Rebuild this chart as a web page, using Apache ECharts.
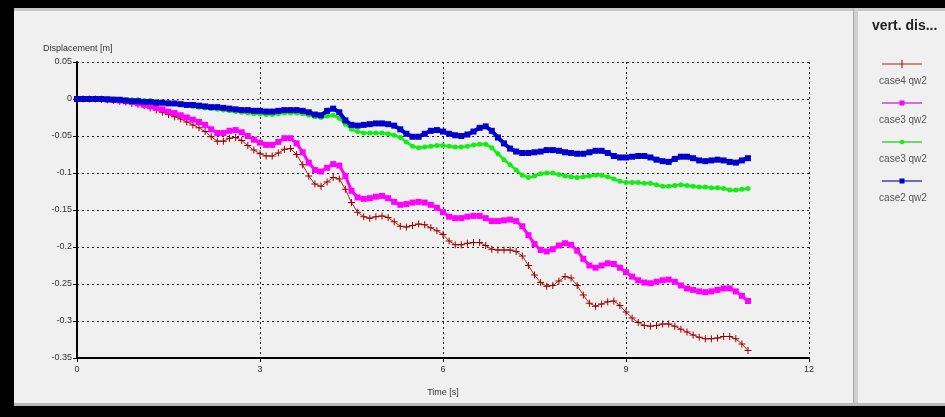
<!DOCTYPE html>
<html>
<head>
<meta charset="utf-8">
<script src="https://cdn.jsdelivr.net/npm/echarts@6/dist/echarts.min.js"></script>
<style>
  html, body { margin:0; padding:0; background:#000; }
  #wrap { position:relative; width:945px; height:417px; background:#000; overflow:hidden; }
  .panel { position:absolute; background:#f0f0f0; }
  #chart { position:absolute; left:0; top:0; width:945px; height:417px; }
</style>
</head>
<body>
<div id="wrap">
  <div class="panel" style="left:14px;top:8px;width:839px;height:395px;border-top:3px solid #c8c8c8;box-sizing:border-box;"></div>
  <div style="position:absolute;left:853px;top:8px;width:5px;height:398px;background:#d0d0d0;border-left:1px solid #a8a8a8;box-sizing:border-box;"></div>
  <div class="panel" style="left:858px;top:8px;width:87px;height:395px;border-top:3px solid #c8c8c8;box-sizing:border-box;"></div>
  <div style="position:absolute;left:14px;top:403px;width:931px;height:3px;background:#b8b8b8;"></div>
  <div id="chart"></div>
</div>
<script>
const seriesNames = ['case4 qw2', 'case3 qw2', 'case3 qw2', 'case2 qw2'];
const xTicks = [0, 3, 6, 9, 12];
const yTicks = [0.05, 0, -0.05, -0.1, -0.15, -0.2, -0.25, -0.3, -0.35];

const times = [0,0.1,0.2,0.3,0.4,0.5,0.6,0.7,0.8,0.9,1,1.1,1.2,1.3,1.4,1.5,1.6,1.7,1.8,1.9,2,2.1,2.2,2.3,2.4,2.5,2.6,2.7,2.8,2.9,3,3.1,3.2,3.3,3.4,3.5,3.6,3.7,3.8,3.9,4,4.1,4.2,4.3,4.4,4.5,4.6,4.7,4.8,4.9,5,5.1,5.2,5.3,5.4,5.5,5.6,5.7,5.8,5.9,6,6.1,6.2,6.3,6.4,6.5,6.6,6.7,6.8,6.9,7,7.1,7.2,7.3,7.4,7.5,7.6,7.7,7.8,7.9,8,8.1,8.2,8.3,8.4,8.5,8.6,8.7,8.8,8.9,9,9.1,9.2,9.3,9.4,9.5,9.6,9.7,9.8,9.9,10,10.1,10.2,10.3,10.4,10.5,10.6,10.7,10.8,10.9,11];

const case4 = [0,0,0,0,-0.0005,-0.001,-0.002,-0.003,-0.004,-0.006,
  -0.007,-0.009,-0.012,-0.015,-0.018,-0.021,-0.024,-0.027,-0.031,-0.035,
  -0.039,-0.044,-0.051,-0.057,-0.057,-0.053,-0.052,-0.056,-0.063,-0.069,
  -0.074,-0.077,-0.077,-0.073,-0.068,-0.067,-0.075,-0.089,-0.104,-0.115,
  -0.118,-0.112,-0.106,-0.108,-0.122,-0.140,-0.153,-0.159,-0.161,-0.159,
  -0.158,-0.160,-0.166,-0.172,-0.173,-0.171,-0.169,-0.170,-0.174,-0.178,
  -0.183,-0.192,-0.197,-0.197,-0.195,-0.194,-0.194,-0.198,-0.203,-0.204,
  -0.204,-0.204,-0.206,-0.212,-0.225,-0.238,-0.248,-0.253,-0.252,-0.246,
  -0.240,-0.242,-0.252,-0.265,-0.276,-0.280,-0.277,-0.274,-0.273,-0.279,
  -0.288,-0.296,-0.302,-0.306,-0.307,-0.306,-0.304,-0.304,-0.307,-0.311,
  -0.315,-0.319,-0.322,-0.324,-0.324,-0.323,-0.321,-0.321,-0.324,-0.331,-0.340];

const case3a = [0,0,0,0,0,-0.0005,-0.001,-0.002,-0.003,-0.004,
  -0.006,-0.008,-0.010,-0.012,-0.014,-0.017,-0.019,-0.022,-0.025,-0.028,
  -0.031,-0.035,-0.041,-0.046,-0.046,-0.043,-0.042,-0.045,-0.050,-0.055,
  -0.059,-0.062,-0.062,-0.058,-0.053,-0.053,-0.060,-0.072,-0.086,-0.096,
  -0.098,-0.093,-0.088,-0.090,-0.104,-0.124,-0.133,-0.135,-0.134,-0.132,
  -0.131,-0.134,-0.139,-0.143,-0.142,-0.140,-0.139,-0.140,-0.143,-0.147,
  -0.153,-0.159,-0.161,-0.161,-0.159,-0.158,-0.158,-0.161,-0.165,-0.165,
  -0.164,-0.163,-0.165,-0.172,-0.184,-0.196,-0.204,-0.206,-0.203,-0.198,
  -0.195,-0.197,-0.205,-0.216,-0.225,-0.228,-0.225,-0.222,-0.223,-0.228,
  -0.234,-0.240,-0.245,-0.248,-0.249,-0.247,-0.245,-0.244,-0.247,-0.252,
  -0.256,-0.258,-0.260,-0.261,-0.260,-0.258,-0.256,-0.256,-0.260,-0.266,-0.273];

const case3b = [0,0,0,0,0,0,0,-0.0005,-0.001,-0.001,
  -0.001,-0.002,-0.002,-0.003,-0.004,-0.005,-0.006,-0.007,-0.008,-0.010,
  -0.011,-0.012,-0.013,-0.014,-0.015,-0.016,-0.017,-0.018,-0.019,-0.020,
  -0.020,-0.021,-0.021,-0.020,-0.019,-0.019,-0.019,-0.020,-0.022,-0.024,
  -0.025,-0.023,-0.022,-0.026,-0.034,-0.041,-0.044,-0.046,-0.046,-0.046,
  -0.046,-0.047,-0.049,-0.052,-0.058,-0.064,-0.066,-0.065,-0.064,-0.063,
  -0.063,-0.064,-0.065,-0.065,-0.064,-0.062,-0.061,-0.061,-0.066,-0.074,
  -0.082,-0.089,-0.096,-0.103,-0.106,-0.104,-0.101,-0.100,-0.100,-0.102,
  -0.104,-0.105,-0.106,-0.105,-0.104,-0.103,-0.103,-0.105,-0.108,-0.111,
  -0.113,-0.113,-0.113,-0.114,-0.114,-0.116,-0.118,-0.118,-0.117,-0.116,
  -0.117,-0.118,-0.119,-0.119,-0.120,-0.120,-0.121,-0.123,-0.123,-0.122,-0.121];

const case2 = [0,0,0,0,0,-0.0005,-0.001,-0.001,-0.002,-0.003,
  -0.003,-0.004,-0.004,-0.005,-0.005,-0.006,-0.006,-0.007,-0.008,-0.008,
  -0.009,-0.010,-0.011,-0.011,-0.012,-0.013,-0.014,-0.015,-0.015,-0.016,
  -0.016,-0.017,-0.017,-0.016,-0.015,-0.015,-0.015,-0.016,-0.018,-0.021,
  -0.022,-0.016,-0.013,-0.018,-0.029,-0.035,-0.036,-0.035,-0.034,-0.033,
  -0.033,-0.034,-0.036,-0.041,-0.047,-0.051,-0.051,-0.047,-0.043,-0.042,
  -0.044,-0.047,-0.049,-0.050,-0.048,-0.044,-0.039,-0.037,-0.043,-0.052,
  -0.060,-0.067,-0.071,-0.073,-0.073,-0.072,-0.071,-0.069,-0.069,-0.070,
  -0.072,-0.073,-0.074,-0.074,-0.072,-0.070,-0.070,-0.073,-0.077,-0.079,
  -0.079,-0.078,-0.077,-0.077,-0.079,-0.082,-0.084,-0.085,-0.081,-0.078,
  -0.078,-0.080,-0.083,-0.084,-0.083,-0.082,-0.083,-0.085,-0.086,-0.083,-0.080];

const values = [case4, case3a, case3b, case2];
const lineColors = ['#b22222', '#ff00ff', '#11ee11', '#0000cc'];
const markerColors = ['#a00000', '#ff00ff', '#11ee11', '#0000cc'];
const legendLineColors = ['#d06060', '#d040d0', '#40d040', '#4040b0'];
const plusPath = 'path://M3,0 L4,0 L4,3 L7,3 L7,4 L4,4 L4,7 L3,7 L3,4 L0,4 L0,3 L3,3 Z';
const symbols = [plusPath, 'rect', 'circle', 'rect'];
const symbolSizes = [7, 6, 5, 6];
const lineWidths = [1, 3, 2.5, 4];

const FONT = '"Liberation Sans", Arial, sans-serif';

const series = values.map((vals, i) => ({
  name: seriesNames[i] + (i === 2 ? ' ' : ''),
  type: 'line',
  data: vals.map((v, k) => [times[k], v]),
  showSymbol: true,
  showAllSymbol: true,
  symbol: symbols[i],
  symbolSize: symbolSizes[i],
  itemStyle: { color: markerColors[i], borderWidth: 0 },
  lineStyle: { color: lineColors[i], width: lineWidths[i] },
  emphasis: { disabled: true },
  animation: false,
  z: 2 + i
}));

const graphics = [];
seriesNames.forEach((name, i) => {
  const y = 64 + 39 * i;
  graphics.push({
    type: 'line', shape: { x1: 882, y1: y, x2: 922, y2: y },
    style: { stroke: legendLineColors[i], lineWidth: 1.5 }, z: 10
  });
  if (i === 0) {
    graphics.push({ type: 'line', shape: { x1: 902, y1: y - 4, x2: 902, y2: y + 4 }, style: { stroke: '#a00000', lineWidth: 1 }, z: 11 });
  } else if (i === 2) {
    graphics.push({ type: 'circle', shape: { cx: 902, cy: y, r: 2.2 }, style: { fill: markerColors[i] }, z: 11 });
  } else {
    graphics.push({ type: 'rect', shape: { x: 899.5, y: y - 2.5, width: 5, height: 5 }, style: { fill: markerColors[i] }, z: 11 });
  }
  graphics.push({
    type: 'text', x: 903, y: y + 17,
    style: { text: name, fill: '#555', font: '10px ' + FONT, align: 'center', verticalAlign: 'middle' }, z: 11
  });
});

const chart = echarts.init(document.getElementById('chart'), null, { renderer: 'canvas' });
chart.setOption({
  backgroundColor: 'transparent',
  animation: false,
  title: [
    { text: 'Displacement [m]', left: 38, top: 39, textStyle: { fontSize: 9, fontWeight: 'normal', color: '#333', fontFamily: FONT } },
    { text: 'vert. dis...', left: 867, top: 14, textStyle: { fontSize: 14, fontWeight: 'bold', color: '#222', fontFamily: FONT } }
  ],
  grid: { left: 77, top: 62, width: 732, height: 296, containLabel: false },
  xAxis: {
    type: 'value', min: 0, max: 12, interval: 3,
    name: 'Time [s]', nameLocation: 'middle', nameGap: 30,
    nameTextStyle: { fontSize: 9, color: '#333', fontFamily: FONT },
    axisLine: { show: true, onZero: false, lineStyle: { color: '#000', width: 2 } },
    axisTick: { show: true, length: 4, lineStyle: { color: '#000' } },
    axisLabel: { fontSize: 9, color: '#333', fontFamily: FONT, margin: 7,
      formatter: v => (xTicks.indexOf(v) >= 0 ? String(v) : '') },
    splitLine: { show: true, lineStyle: { color: '#222', type: [2, 3], width: 1 } }
  },
  yAxis: {
    type: 'value', min: -0.35, max: 0.05, interval: 0.05,
    axisLine: { show: true, onZero: false, lineStyle: { color: '#000', width: 2 } },
    axisTick: { show: true, length: 4, lineStyle: { color: '#000' } },
    axisLabel: { fontSize: 9, color: '#333', fontFamily: FONT, margin: 5,
      formatter: v => { const r = Math.round(v * 100) / 100; const hit = yTicks.find(t => Math.abs(t - r) < 1e-9); return hit === undefined ? '' : String(hit); } },
    splitLine: { show: true, lineStyle: { color: '#222', type: [2, 3], width: 1 } }
  },
  legend: { show: false },
  tooltip: { show: false },
  graphic: graphics,
  series: series
});
</script>
</body>
</html>
